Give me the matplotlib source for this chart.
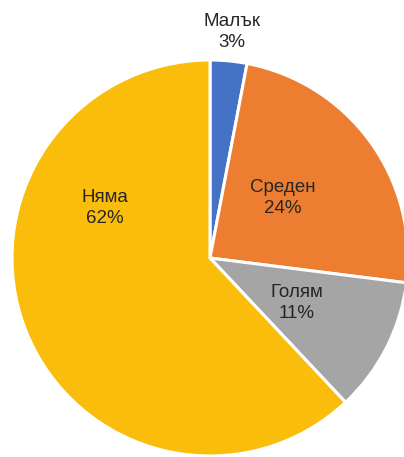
import numpy as np
import matplotlib
matplotlib.use("Agg")
import matplotlib.pyplot as plt

# Share of responses per category
categories = ["Малък", "Среден", "Голям", "Няма"]
shares = [3, 24, 11, 62]
colors = ["#4472C4", "#ED7D31", "#A5A5A5", "#FBBD0C"]

# Label placement (polar, relative to the pie radius)
label_angles = [84.4, 39.4, -27.3, 154.5]
label_radii = [1.147, 0.477, 0.495, 0.587]

plt.rcParams["font.family"] = ["Liberation Sans", "DejaVu Sans"]

fig = plt.figure(figsize=(4.04, 4.57), dpi=100)
ax = fig.add_axes([12 / 404, 1 / 457, 396 / 404, 396 / 457])

ax.pie(shares, colors=colors, startangle=90, counterclock=False,
       wedgeprops=dict(edgecolor="white", linewidth=2.2))
ax.set_xlim(-1, 1)
ax.set_ylim(-1, 1)
ax.set_aspect("equal")
ax.axis("off")

for name, val, ang, rad in zip(categories, shares, label_angles, label_radii):
    a = np.deg2rad(ang)
    ax.text(rad * np.cos(a), rad * np.sin(a), f"{name}\n{val}%",
            ha="center", va="center", fontsize=13.5, color="#262626",
            linespacing=1.3, clip_on=False)

fig.savefig("out.png", dpi=100)
